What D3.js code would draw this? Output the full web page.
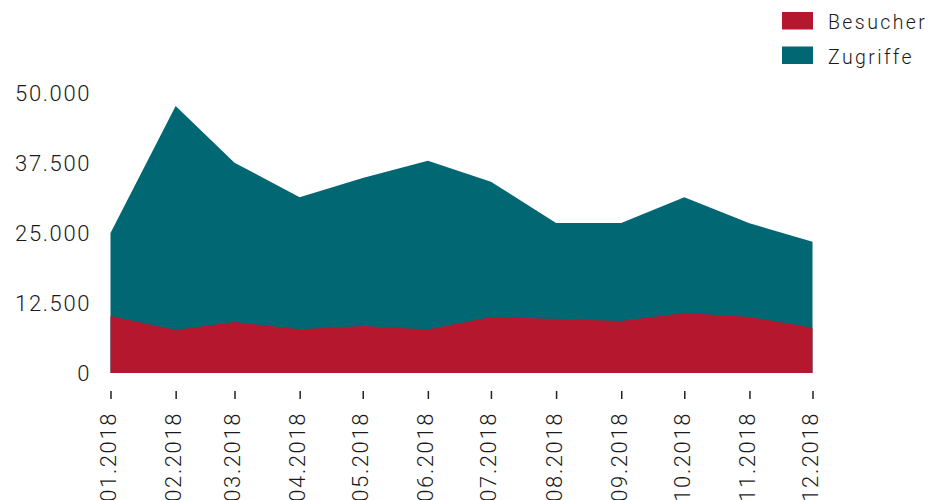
<!DOCTYPE html>
<html lang="de">
<head>
<meta charset="UTF-8">
<title>Besucher und Zugriffe 2018</title>
<script src="https://cdn.jsdelivr.net/npm/d3@7"></script>
<style>
    body { margin: 0; background: #fff; }
    svg { display: block; font-family: Roboto, "Liberation Sans", sans-serif; font-weight: 300; }
</style>
</head>
<body>
<div id="chart"></div>
<script>
    // Monate (x), Werte je Serie, Achsenwerte
    const months = ["01.2018", "02.2018", "03.2018", "04.2018", "05.2018", "06.2018",
                    "07.2018", "08.2018", "09.2018", "10.2018", "11.2018", "12.2018"];
    const zugriffe = [25000, 47700, 37550, 31400, 34800, 37900, 34150, 26800, 26800, 31400, 26750, 23450];
    const besucher = [10200, 7700, 9100, 7800, 8400, 7750, 10000, 9650, 9300, 10700, 10000, 8100];
    const yTicks = [0, 12500, 25000, 37500, 50000];
    const seriesNames = ["Besucher", "Zugriffe"];
    const colors = ["#b5182e", "#006773"];

    const width = 941, height = 500;
    const parse = d3.timeParse("%m.%Y");
    const dates = months.map(parse);

    const de = d3.formatLocale({decimal: ",", thousands: ".", grouping: [3], currency: ["", " €"]});
    const fmt = de.format(",d");

    const x = d3.scaleTime().domain(d3.extent(dates)).range([110.5, 812.5]);
    const y = d3.scaleLinear().domain([0, 50000]).range([373, 93]);

    const svg = d3.select("#chart").append("svg")
        .attr("width", width)
        .attr("height", height);

    const area = d3.area()
        .x((d, i) => x(dates[i]))
        .y0(y(0))
        .y1(d => y(d));

    // Zugriffe hinten, Besucher davor
    svg.append("path").datum(zugriffe).attr("fill", colors[1]).attr("d", area);
    svg.append("path").datum(besucher).attr("fill", colors[0]).attr("d", area);

    // y-Achse
    const gy = svg.append("g")
        .attr("transform", "translate(91,0)")
        .call(d3.axisLeft(y).tickValues(yTicks).tickFormat(fmt).tickSize(0).tickPadding(0));
    gy.select(".domain").remove();
    gy.selectAll("text")
        .attr("fill", "#1a1a1a")
        .attr("font-size", 22)
        .attr("letter-spacing", "1.6px")
        .attr("font-family", "Roboto, sans-serif")
        .attr("font-weight", 300);

    // x-Achse
    const gx = svg.append("g")
        .attr("transform", "translate(0,391)")
        .call(d3.axisBottom(x).tickValues(dates).tickFormat(d3.timeFormat("%m.%Y")).tickSize(8));
    gx.select(".domain").remove();
    gx.selectAll(".tick line").attr("stroke", "#222").attr("stroke-width", 1.5);
    gx.selectAll(".tick text")
        .attr("fill", "#1a1a1a")
        .attr("font-size", 22)
        .attr("letter-spacing", "1.6px")
        .attr("font-family", "Roboto, sans-serif")
        .attr("font-weight", 300)
        .attr("text-anchor", "end")
        .attr("y", null)
        .attr("dy", null)
        .attr("transform", "translate(5,21) rotate(-90)");

    // Legende
    const legend = svg.append("g").attr("transform", "translate(782,12)");
    const item = legend.selectAll("g")
        .data(seriesNames)
        .join("g")
        .attr("transform", (d, i) => `translate(0,${i * 34.5})`);
    item.append("rect")
        .attr("width", 31)
        .attr("height", 17.5)
        .attr("fill", (d, i) => colors[i]);
    item.append("text")
        .attr("x", 46)
        .attr("y", 17.3)
        .attr("font-size", 19.5)
        .attr("letter-spacing", "2.4px")
        .attr("fill", "#1a1a1a")
        .text(d => d);
</script>
</body>
</html>
